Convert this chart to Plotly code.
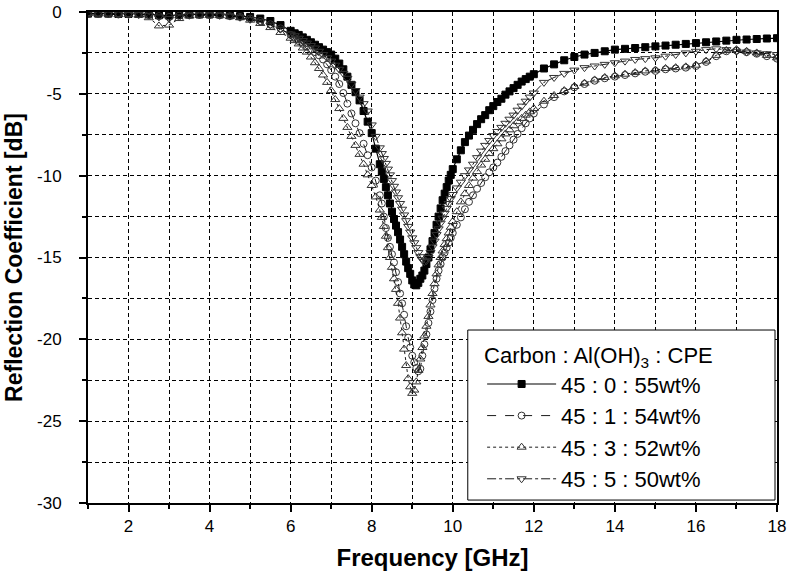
import plotly.graph_objects as go

freq = [1.0, 1.25, 1.5, 1.75, 2.0, 2.25, 2.5, 2.75, 3.0, 3.25, 3.5, 3.75, 4.0, 4.25, 4.5, 4.75, 5.0, 5.25, 5.5, 5.75, 6.0,
        6.1, 6.2, 6.3, 6.4, 6.5, 6.6, 6.7, 6.8, 6.9, 7.0, 7.1, 7.2, 7.3, 7.4, 7.5, 7.6, 7.7, 7.8, 7.9, 8.0, 8.1, 8.2,
        8.25, 8.3, 8.35, 8.4, 8.45, 8.5, 8.55, 8.6, 8.65, 8.7, 8.75, 8.8, 8.85, 8.9, 8.95, 9.0, 9.05, 9.1, 9.15, 9.2,
        9.25, 9.3, 9.35, 9.4, 9.45, 9.5, 9.55, 9.6, 9.65, 9.7, 9.75, 9.8, 9.85, 9.9, 9.95, 10.0,
        10.1, 10.2, 10.3, 10.4, 10.5, 10.6, 10.7, 10.8, 10.9, 11.0, 11.1, 11.2, 11.3, 11.4, 11.5, 11.6, 11.7, 11.8, 11.9, 12.0,
        12.25, 12.5, 12.75, 13.0, 13.25, 13.5, 13.75, 14.0, 14.25, 14.5, 14.75, 15.0, 15.25, 15.5, 15.75, 16.0,
        16.25, 16.5, 16.75, 17.0, 17.25, 17.5, 17.75, 18.0]

s_45_0_55 = [-0.1, -0.1, -0.1, -0.12, -0.12, -0.12, -0.15, -0.2, -0.22, -0.18, -0.15, -0.15, -0.15, -0.15, -0.2, -0.25, -0.3, -0.4, -0.55, -0.8, -1.15,
             -1.3, -1.4, -1.55, -1.7, -1.85, -2.0, -2.15, -2.3, -2.45, -2.6, -2.85, -3.15, -3.5, -3.95, -4.45, -4.9, -5.4, -6.05, -6.7, -7.4, -8.35, -9.3,
             -9.75, -10.2, -10.7, -11.2, -11.7, -12.2, -12.65, -13.05, -13.45, -13.9, -14.35, -14.8, -15.25, -15.65, -16.0, -16.4, -16.65, -16.7, -16.55, -16.3,
             -16.1, -15.8, -15.4, -15.0, -14.5, -14.0, -13.5, -13.0, -12.5, -12.0, -11.5, -11.1, -10.7, -10.3, -9.95, -9.6,
             -9.0, -8.45, -7.95, -7.55, -7.2, -6.85, -6.55, -6.3, -6.0, -5.75, -5.5, -5.3, -5.05, -4.85, -4.65, -4.45, -4.25, -4.1, -3.95, -3.8,
             -3.45, -3.2, -2.95, -2.75, -2.6, -2.5, -2.4, -2.3, -2.25, -2.2, -2.15, -2.1, -2.05, -2.0, -1.95, -1.9,
             -1.85, -1.8, -1.75, -1.7, -1.68, -1.65, -1.62, -1.6]

s_45_1_54 = [-0.12, -0.12, -0.12, -0.15, -0.15, -0.15, -0.18, -0.25, -0.3, -0.22, -0.18, -0.18, -0.18, -0.2, -0.25, -0.3, -0.4, -0.55, -0.75, -1.0, -1.4,
             -1.6, -1.78, -1.95, -2.1, -2.28, -2.45, -2.65, -2.9, -3.2, -3.55, -3.95, -4.4, -4.95, -5.6, -6.2, -6.8, -7.4, -8.05, -8.75, -9.5, -10.3, -11.2,
             -11.7, -12.5, -13.2, -13.8, -14.35, -14.8, -15.3, -15.9, -16.5, -17.2, -17.8, -18.5, -19.2, -19.9, -20.5, -21.0, -21.4, -21.75, -21.95, -21.8,
             -21.0, -20.3, -19.7, -19.0, -18.3, -17.6, -16.9, -16.3, -15.8, -15.4, -15.0, -14.7, -14.4, -14.1, -13.8, -13.5,
             -13.0, -12.55, -12.05, -11.6, -11.2, -10.8, -10.45, -10.1, -9.8, -9.5, -9.2, -8.85, -8.5, -8.15, -7.8, -7.45, -7.1, -6.8, -6.5, -6.2,
             -5.65, -5.2, -4.85, -4.6, -4.4, -4.2, -4.05, -3.95, -3.85, -3.75, -3.65, -3.6, -3.5, -3.45, -3.4, -3.3,
             -3.05, -2.7, -2.4, -2.35, -2.45, -2.55, -2.7, -2.85]

s_45_3_52 = [-0.1, -0.12, -0.12, -0.15, -0.15, -0.2, -0.35, -0.85, -0.8, -0.4, -0.25, -0.2, -0.2, -0.22, -0.28, -0.35, -0.5, -0.7, -0.95, -1.25, -1.6,
             -1.75, -1.95, -2.2, -2.45, -2.75, -3.1, -3.45, -3.85, -4.3, -4.8, -5.35, -5.9, -6.5, -7.05, -7.6, -8.15, -8.7, -9.3, -9.95, -10.6, -11.3, -12.1,
             -12.55, -13.1, -13.7, -14.4, -15.0, -15.6, -16.3, -16.95, -17.8, -18.7, -19.6, -20.6, -21.6, -22.4, -22.9, -23.3, -23.1, -22.6, -21.9, -21.2,
             -20.5, -19.8, -19.2, -18.6, -17.9, -17.2, -16.6, -16.0, -15.45, -15.0, -14.6, -14.2, -13.85, -13.5, -13.15, -12.8,
             -12.2, -11.6, -11.1, -10.6, -10.15, -9.75, -9.35, -9.0, -8.65, -8.35, -8.05, -7.75, -7.45, -7.2, -6.95, -6.7, -6.5, -6.3, -6.1, -5.9,
             -5.45, -5.1, -4.8, -4.55, -4.35, -4.15, -4.0, -3.9, -3.8, -3.7, -3.6, -3.55, -3.45, -3.4, -3.35, -3.25,
             -3.0, -2.65, -2.35, -2.3, -2.4, -2.5, -2.65, -2.8]

s_45_5_50 = [-0.1, -0.1, -0.12, -0.12, -0.15, -0.15, -0.2, -0.3, -0.4, -0.3, -0.2, -0.18, -0.18, -0.2, -0.25, -0.32, -0.45, -0.6, -0.8, -1.05, -1.35,
             -1.45, -1.6, -1.75, -1.9, -2.05, -2.2, -2.4, -2.6, -2.8, -3.0, -3.25, -3.5, -3.75, -4.05, -4.4, -4.8, -5.2, -5.6, -6.05, -6.9, -7.6, -8.3,
             -8.65, -8.95, -9.25, -9.6, -9.95, -10.3, -10.65, -11.0, -11.35, -11.7, -12.05, -12.4, -12.75, -13.1, -13.45, -13.8, -14.1, -14.4, -14.7, -14.95,
             -15.15, -15.25, -15.2, -15.0, -14.7, -14.35, -14.0, -13.6, -13.25, -12.9, -12.6, -12.3, -12.0, -11.7, -11.4, -11.15,
             -10.75, -10.4, -10.0, -9.65, -9.3, -8.9, -8.5, -8.15, -7.85, -7.55, -7.3, -7.05, -6.8, -6.55, -6.3, -6.0, -5.75, -5.45, -5.2, -4.95,
             -4.3, -4.0, -3.75, -3.55, -3.4, -3.3, -3.2, -3.1, -3.0, -2.9, -2.85, -2.8, -2.7, -2.6, -2.5, -2.4,
             -2.3, -2.25, -2.3, -2.4, -2.45, -2.5, -2.55, -2.6]

series_names = ["45 : 0 : 55wt%", "45 : 1 : 54wt%", "45 : 3 : 52wt%", "45 : 5 : 50wt%"]
legend_title = "Carbon : Al(OH)<sub>3</sub> : CPE"
x_ticks = [2, 4, 6, 8, 10, 12, 14, 16, 18]
y_ticks = [0, -5, -10, -15, -20, -25, -30]
y_ticktext = ["0", "-5", "-10", "-15", "-20", "-25", "-30"]

styles = [
    dict(symbol="square", size=7, color="black", fill="black", dash="solid", lw=1.2),
    dict(symbol="circle-open", size=7, color="#333333", fill="#333333", dash="dash", lw=0.9),
    dict(symbol="triangle-up-open", size=8, color="#333333", fill="#333333", dash="dot", lw=0.9),
    dict(symbol="triangle-down-open", size=8, color="#333333", fill="#333333", dash="dashdot", lw=0.9),
]

fig = go.Figure()
for name, ys, st in zip(series_names, [s_45_0_55, s_45_1_54, s_45_3_52, s_45_5_50], styles):
    fig.add_trace(go.Scatter(
        x=freq, y=ys, name=name, mode="lines+markers",
        line=dict(color="black", width=st["lw"], dash=st["dash"]),
        marker=dict(symbol=st["symbol"], size=st["size"], color=st["fill"],
                    line=dict(color=st["color"], width=1)),
    ))

font_main = "Liberation Sans, Arial, sans-serif"

# legend frame (white box with black border)
fig.add_shape(type="rect", xref="paper", yref="paper",
              x0=0.5512, x1=0.9971, y0=0.006, y1=0.3523,
              fillcolor="white", line=dict(color="black", width=1), layer="above")

fig.update_layout(
    width=789, height=582,
    margin=dict(l=88, r=12, t=12, b=79),
    paper_bgcolor="white", plot_bgcolor="white",
    font=dict(family=font_main, color="black", size=16),
    showlegend=True,
    legend=dict(
        title=dict(text=legend_title, font=dict(family=font_main, size=22)),
        font=dict(family=font_main, size=22),
        x=0.572, y=0.343, xanchor="left", yanchor="top",
        bgcolor="rgba(0,0,0,0)", borderwidth=0,
        itemwidth=69, tracegroupgap=0,
    ),
    xaxis=dict(
        range=[1, 18], tickvals=x_ticks, automargin=False,
        showline=True, mirror=True, linecolor="black", linewidth=2,
        ticks="outside", ticklen=7, tickwidth=1.5, tickcolor="black",
        showgrid=True, gridcolor="black", gridwidth=1, griddash="4px,3px",
        minor=dict(dtick=1, ticks="outside", ticklen=4, tickcolor="black", showgrid=True,
                   gridcolor="black", gridwidth=1, griddash="4px,3px"),
        zeroline=False,
        tickfont=dict(size=17),
        title=dict(text="<b>Frequency [GHz]</b>", font=dict(family=font_main, size=24), standoff=14),
    ),
    yaxis=dict(
        range=[-30, 0], tickvals=y_ticks, ticktext=y_ticktext, automargin=False,
        showline=True, mirror=True, linecolor="black", linewidth=2,
        ticks="outside", ticklen=7, tickwidth=1.5, tickcolor="black",
        showgrid=True, gridcolor="black", gridwidth=1, griddash="4px,3px",
        minor=dict(dtick=2.5, ticks="outside", ticklen=4, tickcolor="black", showgrid=True,
                   gridcolor="black", gridwidth=1, griddash="4px,3px"),
        zeroline=False,
        tickfont=dict(size=17),
        ticklabelstandoff=14,
        title=dict(text="<b>Reflection Coefficient [dB]</b>", font=dict(family=font_main, size=23), standoff=8),
    ),
)

fig.write_html("out.html")
